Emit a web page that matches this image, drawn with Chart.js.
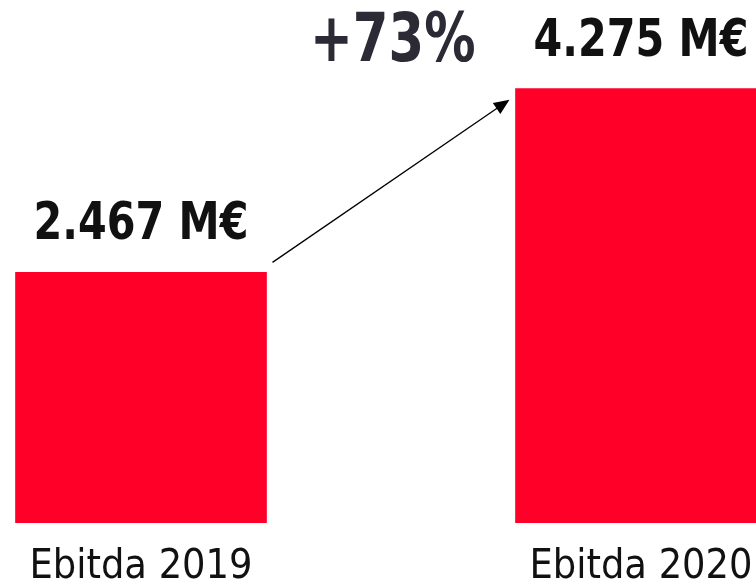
<!DOCTYPE html>
<html>
<head>
<meta charset="utf-8">
<script src="https://cdn.jsdelivr.net/npm/chart.js@4"></script>
<style>
  html, body { margin: 0; padding: 0; background: #fff; overflow: hidden; }
  #wrap { position: relative; width: 756px; height: 585px; overflow: hidden; }
  #chart { position: absolute; left: -109px; top: 0; }
</style>
</head>
<body>
<div id="wrap">
  <canvas id="chart" width="1000" height="585"></canvas>
</div>
<script>
// data
const categories = ["Ebitda 2019", "Ebitda 2020"];
const ebitda = [2467, 4275];
const barColor = "#FF0028";
const FONT = "'DejaVu Sans Condensed', 'Liberation Sans Narrow', Roboto, sans-serif";

const fmt = v => (v / 1000).toFixed(3) + " M€";
const growth = "+" + Math.round((ebitda[1] / ebitda[0] - 1) * 100) + "%";

// draw text squeezed horizontally (the original font is narrower)
function squeezed(ctx, txt, x, y, sx) {
  ctx.save();
  ctx.translate(x, y);
  ctx.scale(sx, 1);
  ctx.fillText(txt, 0, 0);
  ctx.restore();
}

// labels above bars + arrow + growth text
const annotate = {
  id: "annotate",
  afterDatasetsDraw(chart) {
    const ctx = chart.ctx;
    const bars = chart.getDatasetMeta(0).data;
    ctx.save();
    ctx.fillStyle = "#111";
    ctx.font = "bold 51px " + FONT;
    ctx.textAlign = "center";
    ctx.textBaseline = "alphabetic";
    bars.forEach((b, i) => {
      squeezed(ctx, fmt(ebitda[i]), b.x, b.y - 33, 0.9);
    });

    // arrow from bar 1 to bar 2
    const b1 = bars[0], b2 = bars[1];
    const x0 = b1.x + b1.width / 2 + 6, y0 = b1.y - 10;
    const x1 = b2.x - b2.width / 2 - 6, y1 = b2.y + 11;
    const ang = Math.atan2(y1 - y0, x1 - x0);
    ctx.strokeStyle = "#000";
    ctx.lineWidth = 1.3;
    ctx.beginPath();
    ctx.moveTo(x0, y0);
    ctx.lineTo(x1 - 12 * Math.cos(ang), y1 - 12 * Math.sin(ang));
    ctx.stroke();
    ctx.fillStyle = "#000";
    ctx.beginPath();
    ctx.moveTo(x1, y1);
    ctx.lineTo(x1 - 17 * Math.cos(ang - 0.4), y1 - 17 * Math.sin(ang - 0.4));
    ctx.lineTo(x1 - 17 * Math.cos(ang + 0.4), y1 - 17 * Math.sin(ang + 0.4));
    ctx.closePath();
    ctx.fill();

    // growth
    ctx.fillStyle = "#2B2A35";
    ctx.font = "bold 67px " + FONT;
    ctx.textAlign = "right";
    squeezed(ctx, growth, b2.x - b2.width / 2 - 40, b2.y - 28, 0.85);
    ctx.restore();
  }
};

new Chart(document.getElementById("chart"), {
  type: "bar",
  data: {
    labels: categories,
    datasets: [{
      data: ebitda,
      backgroundColor: barColor,
      barThickness: 251,
      borderWidth: 0
    }]
  },
  options: {
    responsive: false,
    animation: false,
    layout: { padding: { top: 15, left: 0, right: 0, bottom: 0 } },
    plugins: { legend: { display: false }, tooltip: { enabled: false } },
    scales: {
      x: {
        grid: { display: false, drawTicks: false },
        border: { display: false },
        afterFit(scale) { scale.height = 62; },
        ticks: {
          color: "#111",
          padding: 20,
          font: { family: FONT, size: 41 }
        }
      },
      y: {
        display: false,
        min: 0,
        max: 5000
      }
    }
  },
  plugins: [annotate]
});
</script>
</body>
</html>
